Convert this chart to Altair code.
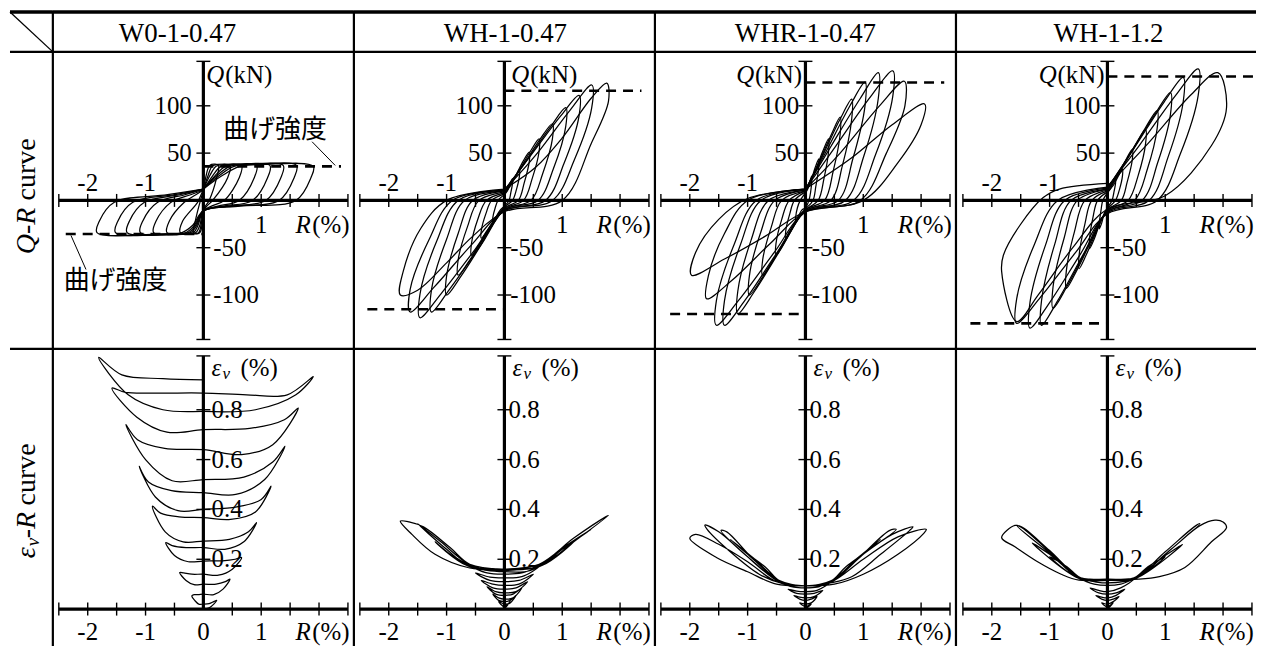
import altair as alt
import pandas as pd

SERIF = "Liberation Serif"
CJK = "Noto Sans CJK JP"
FS = 25

specimens = ["W0-1-0.47", "WH-1-0.47", "WHR-1-0.47", "WH-1-1.2"]

# ---- Q-R hysteresis loops: each loop is a list of (R [%], Q [kN]) points
qr_w0 = [
    [(0, 10), (0.04, 24), (0.09, 35), (0.14, 38), (0.26, 37), (0.23, 24), (0.1, 0), (0, -10), (-0.02, -24), (-0.05, -33), (-0.09, -35), (-0.17, -34), (-0.14, -22), (-0.05, 0), (0, 10)],
    [(0, 11), (0.08, 26), (0.15, 36), (0.25, 38), (0.46, 37), (0.42, 24), (0.16, 0), (0.06, -6), (0, -11), (-0.04, -26), (-0.08, -34), (-0.16, -35.5), (-0.4, -34), (-0.36, -22), (-0.1, -2), (-0.04, 6), (0, 11)],
    [(0, 11), (0.11, 26), (0.22, 36), (0.36, 38), (0.66, 37), (0.62, 24), (0.36, 0), (0.14, -6), (0, -11), (-0.06, -26), (-0.13, -34), (-0.25, -35.5), (-0.63, -34), (-0.59, -22), (-0.33, -2), (-0.13, 6), (0, 11)],
    [(0, 11), (0.16, 26), (0.3, 36), (0.51, 38), (0.92, 37), (0.88, 24), (0.62, 0), (0.25, -6), (0, -11), (-0.09, -26), (-0.17, -34), (-0.34, -35.5), (-0.86, -34), (-0.82, -22), (-0.56, -2), (-0.22, 6), (0, 11)],
    [(0, 12), (0.2, 26), (0.38, 36), (0.63, 38), (1.15, 37), (1.11, 24), (0.85, 0), (0.34, -6), (0, -11), (-0.11, -26), (-0.22, -34), (-0.44, -35.5), (-1.09, -34), (-1.05, -22), (-0.79, -2), (-0.32, 6), (0, 12)],
    [(0, 12), (0.23, 26), (0.46, 36), (0.76, 38), (1.38, 37), (1.34, 24), (1.08, 0), (0.43, -6), (0, -11), (-0.13, -26), (-0.26, -34), (-0.53, -35.5), (-1.32, -34), (-1.28, -22), (-1.02, -2), (-0.41, 6), (0, 12)],
    [(0, 12), (0.27, 26), (0.53, 36), (0.89, 38), (1.61, 37), (1.57, 24), (1.31, 0), (0.52, -6), (0, -11), (-0.15, -26), (-0.3, -34), (-0.61, -35.5), (-1.52, -34), (-1.48, -22), (-1.22, -2), (-0.49, 6), (0, 12)],
    [(0, 12), (0.32, 26), (0.63, 36), (1.05, 38), (1.9, 36), (1.86, 24), (1.6, 0), (0.64, -6), (0, -11), (-0.18, -26), (-0.37, -34), (-0.74, -35.5), (-1.84, -34), (-1.8, -22), (-1.54, -2), (-0.62, 6), (0, 12)],
]
qr_wh047 = [
    [(0, 6), (0.05, 10), (0.1, 18), (0.14, 23), (0.14, 18), (0.11, 8), (0.08, 0), (0, -6), (-0.07, -10), (-0.15, -18), (-0.2, -23), (-0.2, -18), (-0.16, -8), (-0.11, 0), (0, 6)],
    [(0, 7), (0.09, 14), (0.2, 26), (0.26, 33), (0.26, 26), (0.21, 12), (0.14, 0), (0, -7), (-0.14, -17), (-0.3, -32), (-0.4, -40), (-0.4, -32), (-0.32, -14), (-0.22, 0), (0, 7)],
    [(0, 8), (0.15, 21), (0.32, 41), (0.43, 51), (0.43, 41), (0.34, 18), (0.24, 0), (0, -8), (-0.2, -24), (-0.43, -46), (-0.57, -58), (-0.57, -46), (-0.46, -20), (-0.31, 0), (0, 8)],
    [(0, 9), (0.21, 27), (0.45, 52), (0.6, 65), (0.6, 52), (0.48, 23), (0.33, 0), (0, -9), (-0.28, -33), (-0.6, -63), (-0.8, -79), (-0.8, -63), (-0.64, -28), (-0.44, 0), (0, 9)],
    [(0, 10), (0.29, 34), (0.62, 65), (0.83, 81), (0.83, 65), (0.66, 28), (0.46, 0), (0, -10), (-0.35, -42), (-0.75, -80), (-1.0, -100), (-1.0, -80), (-0.8, -35), (-0.55, 0), (0, 10)],
    [(0, 10), (0.37, 41), (0.8, 78), (1.06, 98), (1.06, 78), (0.85, 34), (0.58, 0), (0, -10), (-0.44, -50), (-0.95, -94), (-1.26, -118), (-1.26, -94), (-1.0, -41), (-0.69, 0), (0, 10)],
    [(0, 11), (0.45, 47), (0.97, 89), (1.29, 111), (1.29, 89), (1.03, 39), (0.71, 0), (0, -11), (-0.51, -52), (-1.1, -99), (-1.46, -124), (-1.46, -99), (-1.17, -43), (-0.8, 0), (0, 11)],
    [(0, 11), (0.53, 47), (1.13, 95), (1.51, 122), (1.51, 98), (1.21, 43), (0.83, 0), (0, -11), (-0.57, -47), (-1.22, -92), (-1.63, -118), (-1.63, -94), (-1.3, -41), (-0.9, 0), (0, 11)],
    [(0, 12), (0.54, 35), (1.0, 66), (1.5, 108), (1.77, 124), (1.8, 105), (1.5, 60), (1.0, 0), (0, -12), (-0.55, -38), (-1.0, -66), (-1.5, -95), (-1.8, -100), (-1.75, -75), (-1.45, -30), (-1.0, 0), (0, 12)],
]
qr_whr = [
    [(0, 8), (0.04, 12), (0.08, 21), (0.11, 26), (0.11, 21), (0.09, 9), (0.06, 0), (0, -8), (-0.06, -10), (-0.13, -18), (-0.17, -23), (-0.17, -18), (-0.14, -8), (-0.09, 0), (0, 8)],
    [(0, 9), (0.08, 18), (0.17, 35), (0.23, 44), (0.23, 35), (0.18, 15), (0.13, 0), (0, -9), (-0.12, -17), (-0.26, -32), (-0.34, -40), (-0.34, -32), (-0.27, -14), (-0.19, 0), (0, 9)],
    [(0, 10), (0.14, 27), (0.3, 52), (0.4, 65), (0.4, 52), (0.32, 23), (0.22, 0), (0, -10), (-0.18, -24), (-0.38, -46), (-0.51, -58), (-0.51, -46), (-0.41, -20), (-0.28, 0), (0, 10)],
    [(0, 10), (0.21, 37), (0.45, 70), (0.6, 88), (0.6, 70), (0.48, 31), (0.33, 0), (0, -10), (-0.26, -33), (-0.56, -63), (-0.74, -79), (-0.74, -63), (-0.59, -28), (-0.41, 0), (0, 10)],
    [(0, 11), (0.28, 45), (0.6, 86), (0.8, 107), (0.8, 86), (0.64, 37), (0.44, 0), (0, -11), (-0.34, -42), (-0.73, -80), (-0.97, -100), (-0.97, -80), (-0.78, -35), (-0.53, 0), (0, 11)],
    [(0, 11), (0.36, 52), (0.77, 100), (1.03, 125), (1.03, 100), (0.82, 44), (0.57, 0), (0, -11), (-0.41, -50), (-0.88, -96), (-1.17, -120), (-1.17, -96), (-0.94, -42), (-0.64, 0), (0, 11)],
    [(0, 12), (0.44, 57), (0.95, 108), (1.26, 135), (1.26, 108), (1.01, 47), (0.69, 0), (0, -12), (-0.49, -55), (-1.05, -106), (-1.4, -132), (-1.4, -106), (-1.12, -46), (-0.77, 0), (0, 12)],
    [(0, 12), (0.53, 58), (1.13, 110), (1.51, 137), (1.51, 110), (1.21, 48), (0.83, 0), (0, -12), (-0.54, -55), (-1.16, -106), (-1.54, -132), (-1.54, -106), (-1.23, -46), (-0.85, 0), (0, 12)],
    [(0, 12), (0.6, 50), (1.28, 100), (1.71, 126), (1.72, 100), (1.4, 50), (0.95, 0), (0, -12), (-0.6, -45), (-1.28, -85), (-1.71, -104), (-1.68, -80), (-1.4, -35), (-1.0, 0), (0, 12)],
    [(0, 12), (0.8, 45), (1.5, 80), (2.06, 102), (2.0, 80), (1.6, 40), (1.0, 0), (0, -12), (-0.7, -38), (-1.4, -62), (-1.97, -79), (-1.9, -55), (-1.5, -20), (-1.0, 2), (0, 12)],
]
qr_wh12 = [
    [(0, 8), (0.05, 12), (0.1, 19), (0.14, 23), (0.14, 18), (0.11, 8), (0.08, 0), (0, -8), (-0.05, -13), (-0.1, -24), (-0.14, -30), (-0.14, -24), (-0.11, -10), (-0.08, 0), (0, 8)],
    [(0, 9), (0.09, 15), (0.2, 27), (0.26, 33), (0.26, 26), (0.21, 12), (0.14, 0), (0, -9), (-0.11, -21), (-0.23, -41), (-0.31, -51), (-0.31, -41), (-0.25, -18), (-0.17, 0), (0, 9)],
    [(0, 10), (0.15, 23), (0.32, 43), (0.43, 54), (0.43, 43), (0.34, 19), (0.24, 0), (0, -10), (-0.17, -30), (-0.37, -58), (-0.49, -72), (-0.49, -58), (-0.39, -25), (-0.27, 0), (0, 10)],
    [(0, 11), (0.23, 32), (0.5, 60), (0.66, 75), (0.66, 60), (0.53, 26), (0.36, 0), (0, -11), (-0.25, -39), (-0.53, -74), (-0.71, -93), (-0.71, -74), (-0.57, -33), (-0.39, 0), (0, 11)],
    [(0, 12), (0.3, 40), (0.65, 76), (0.86, 95), (0.86, 76), (0.69, 33), (0.47, 0), (0, -12), (-0.33, -48), (-0.7, -91), (-0.94, -114), (-0.94, -91), (-0.75, -40), (-0.52, 0), (0, 12)],
    [(0, 12), (0.38, 48), (0.82, 91), (1.09, 114), (1.09, 91), (0.87, 40), (0.6, 0), (0, -12), (-0.4, -55), (-0.86, -106), (-1.14, -132), (-1.14, -106), (-0.91, -46), (-0.63, 0), (0, 12)],
    [(0, 13), (0.46, 55), (0.98, 104), (1.31, 130), (1.31, 104), (1.05, 46), (0.72, 0), (0, -13), (-0.47, -57), (-1.0, -108), (-1.34, -135), (-1.34, -108), (-1.07, -47), (-0.74, 0), (0, 13)],
    [(0, 14), (0.55, 58), (1.18, 111), (1.57, 139), (1.57, 111), (1.26, 49), (0.86, 0), (0, -14), (-0.55, -55), (-1.18, -104), (-1.57, -130), (-1.57, -104), (-1.26, -46), (-0.86, 0), (0, 14)],
    [(0, 15), (0.7, 60), (1.45, 112), (1.91, 135), (2.06, 98), (1.8, 58), (1.0, 5), (0, -9), (-0.6, -50), (-1.2, -100), (-1.57, -128), (-1.83, -75), (-1.8, -58), (-1.51, -26), (-1.11, 3), (-0.83, 12), (0, 18)],
]

# ---- εv-R paths: (R [%], εv [%]) points
ev_w0 = [
    (0, 0), (0.1, 0.005), (0.18, 0.02), (0.23, 0.035), (0.18, 0.03), (0.1, 0.022), (0, 0.02),
    (-0.08, 0.02), (-0.15, 0.035), (-0.2, 0.053), (-0.16, 0.058), (-0.09, 0.058), (0, 0.06),
    (0.18, 0.058), (0.34, 0.08), (0.46, 0.12), (0.38, 0.11), (0.22, 0.1), (0, 0.1),
    (-0.16, 0.098), (-0.3, 0.115), (-0.41, 0.147), (-0.34, 0.145), (-0.2, 0.14), (0, 0.14),
    (0.26, 0.136), (0.5, 0.16), (0.66, 0.207), (0.55, 0.2), (0.33, 0.194), (0, 0.193),
    (-0.26, 0.19), (-0.5, 0.215), (-0.65, 0.267), (-0.54, 0.255), (-0.3, 0.247), (0, 0.247),
    (0.37, 0.24), (0.7, 0.27), (0.92, 0.347), (0.78, 0.31), (0.45, 0.28), (0, 0.273),
    (-0.35, 0.27), (-0.66, 0.31), (-0.88, 0.413), (-0.74, 0.385), (-0.42, 0.37), (0, 0.367),
    (0.47, 0.36), (0.9, 0.39), (1.17, 0.493), (1.0, 0.44), (0.58, 0.41), (0, 0.4),
    (-0.44, 0.395), (-0.83, 0.45), (-1.11, 0.573), (-0.95, 0.51), (-0.55, 0.475), (0, 0.467),
    (0.56, 0.46), (1.06, 0.52), (1.41, 0.653), (1.2, 0.59), (0.7, 0.53), (0, 0.52),
    (-0.54, 0.515), (-1.0, 0.6), (-1.34, 0.74), (-1.14, 0.68), (-0.67, 0.645), (0, 0.64),
    (0.66, 0.62), (1.2, 0.66), (1.64, 0.807), (1.4, 0.76), (0.8, 0.725), (0, 0.72),
    (-0.63, 0.71), (-1.15, 0.77), (-1.58, 0.887), (-1.35, 0.87), (-0.8, 0.867), (0, 0.867),
    (0.75, 0.86), (1.45, 0.86), (1.9, 0.933), (1.6, 0.86), (0.9, 0.8), (0, 0.793),
    (-0.7, 0.8), (-1.3, 0.86), (-1.81, 1.01), (-1.41, 0.94), (-0.7, 0.925), (0, 0.92),
]
ev_wh047 = [
    (0, 0), (0.1, 0.03), (0, 0.01), (-0.1, 0.03), (0, 0.02),
    (0.1, 0.025), (0.2, 0.055), (0.1, 0.035), (0, 0.03), (-0.1, 0.035), (-0.2, 0.06), (-0.1, 0.045), (0, 0.04),
    (0.15, 0.045), (0.3, 0.085), (0.15, 0.06), (0, 0.055), (-0.15, 0.06), (-0.3, 0.09), (-0.15, 0.07), (0, 0.065),
    (0.2, 0.07), (0.4, 0.11), (0.2, 0.085), (0, 0.08), (-0.2, 0.085), (-0.4, 0.115), (-0.2, 0.1), (0, 0.095),
    (0.25, 0.1), (0.5, 0.14), (0.25, 0.115), (0, 0.11), (-0.25, 0.115), (-0.5, 0.145), (-0.25, 0.128), (0, 0.125),
    (0.3, 0.13), (0.6, 0.17), (0.3, 0.145), (0, 0.14), (-0.3, 0.145), (-0.6, 0.175), (-0.3, 0.155), (0, 0.15),
    (0.45, 0.155), (0.9, 0.22), (0.55, 0.17), (0, 0.155), (-0.55, 0.168), (-0.9, 0.215), (-0.5, 0.165), (0, 0.158),
    (0.6, 0.17), (1.2, 0.27), (0.65, 0.175), (0, 0.16), (-0.65, 0.175), (-1.2, 0.27), (-0.6, 0.17), (0, 0.16),
    (0.6, 0.17), (1.0, 0.24), (1.5, 0.32), (1.1, 0.26), (0.6, 0.18), (0, 0.16),
    (-0.6, 0.17), (-1.0, 0.24), (-1.5, 0.343), (-1.1, 0.27), (-0.6, 0.18), (0, 0.16),
    (0.6, 0.17), (1.2, 0.27), (1.8, 0.376), (1.75, 0.37), (1.2, 0.285), (0.6, 0.18), (0, 0.16),
    (-0.6, 0.165), (-1.2, 0.22), (-1.6, 0.3), (-1.8, 0.353), (-1.65, 0.35), (-1.4, 0.33), (-0.94, 0.247), (-0.6, 0.18), (0, 0.16),
]
ev_whr = [
    (0, 0), (0.1, 0.02), (0, 0.01), (-0.1, 0.025), (0, 0.02),
    (0.1, 0.025), (0.2, 0.05), (0.1, 0.04), (0, 0.035), (-0.1, 0.04), (-0.2, 0.055), (-0.1, 0.048), (0, 0.045),
    (0.15, 0.05), (0.3, 0.075), (0.15, 0.063), (0, 0.06), (-0.15, 0.063), (-0.3, 0.08), (-0.15, 0.072), (0, 0.07),
    (0.2, 0.075), (0.43, 0.107), (0.2, 0.088), (0, 0.085), (-0.2, 0.088), (-0.43, 0.107), (-0.2, 0.095), (0, 0.093),
    (0.43, 0.107), (0.7, 0.16), (0.45, 0.115), (0, 0.093), (-0.43, 0.107), (-0.7, 0.16), (-0.45, 0.115), (0, 0.093),
    (0.43, 0.107), (0.75, 0.17), (1.0, 0.22), (0.7, 0.17), (0.43, 0.11), (0, 0.093),
    (-0.43, 0.107), (-0.75, 0.17), (-1.0, 0.22), (-0.7, 0.17), (-0.43, 0.11), (0, 0.093),
    (0.43, 0.107), (0.9, 0.2), (1.3, 0.28), (0.9, 0.205), (0.43, 0.11), (0, 0.093),
    (-0.43, 0.107), (-0.9, 0.2), (-1.3, 0.28), (-0.9, 0.205), (-0.43, 0.11), (0, 0.093),
    (0.43, 0.107), (1.0, 0.22), (1.57, 0.32), (1.45, 0.315), (0.9, 0.2), (0.43, 0.11), (0, 0.093),
    (-0.43, 0.107), (-1.0, 0.21), (-1.46, 0.316), (-1.36, 0.31), (-0.9, 0.2), (-0.43, 0.11), (0, 0.093),
    (0.43, 0.107), (1.0, 0.22), (1.5, 0.3), (1.86, 0.33), (1.8, 0.315), (1.3, 0.22), (0.8, 0.13), (0.43, 0.105), (0, 0.093),
    (-0.43, 0.107), (-1.0, 0.21), (-1.5, 0.31), (-1.74, 0.337), (-1.7, 0.32), (-1.3, 0.23), (-0.8, 0.14), (-0.43, 0.105), (0, 0.093),
    (0.43, 0.107), (1.0, 0.2), (1.6, 0.29), (2.09, 0.32), (2.05, 0.305), (1.6, 0.22), (1.0, 0.14), (0.5, 0.1), (0, 0.093),
    (-0.5, 0.1), (-1.0, 0.15), (-1.54, 0.207), (-2.0, 0.284), (-1.9, 0.3), (-1.5, 0.26), (-1.0, 0.19), (-0.5, 0.11), (0, 0.093),
]
ev_wh12 = [
    (0, 0), (0.1, 0.025), (0, 0.01), (-0.1, 0.025), (0, 0.02),
    (0.1, 0.03), (0.2, 0.05), (0.1, 0.04), (0, 0.035), (-0.1, 0.04), (-0.2, 0.055), (-0.1, 0.048), (0, 0.045),
    (0.15, 0.055), (0.3, 0.08), (0.15, 0.065), (0, 0.06), (-0.15, 0.065), (-0.3, 0.085), (-0.15, 0.075), (0, 0.07),
    (0.23, 0.085), (0.46, 0.12), (0.23, 0.1), (0, 0.095), (-0.23, 0.1), (-0.46, 0.12), (-0.23, 0.11), (0, 0.105),
    (0.46, 0.12), (0.7, 0.16), (0.46, 0.125), (0, 0.115), (-0.46, 0.12), (-0.7, 0.16), (-0.46, 0.125), (0, 0.118),
    (0.46, 0.12), (1.0, 0.21), (0.7, 0.17), (0.46, 0.125), (0, 0.12),
    (-0.46, 0.12), (-1.0, 0.21), (-0.7, 0.17), (-0.46, 0.125), (0, 0.12),
    (0.46, 0.12), (1.3, 0.26), (1.0, 0.215), (0.46, 0.125), (0, 0.12),
    (-0.46, 0.12), (-1.3, 0.265), (-1.0, 0.22), (-0.46, 0.125), (0, 0.12),
    (0.46, 0.12), (1.0, 0.22), (1.6, 0.343), (1.5, 0.33), (1.0, 0.23), (0.46, 0.125), (0, 0.12),
    (-0.46, 0.12), (-1.0, 0.225), (-1.57, 0.336), (-1.45, 0.325), (-1.0, 0.235), (-0.46, 0.125), (0, 0.12),
    (0.46, 0.12), (1.1, 0.24), (1.6, 0.335), (1.86, 0.357), (2.0, 0.35), (2.06, 0.327), (1.8, 0.27), (1.34, 0.167), (0.9, 0.13), (0.54, 0.12), (0, 0.12),
    (-0.46, 0.12), (-1.0, 0.23), (-1.5, 0.33), (-1.6, 0.336), (-1.83, 0.287), (-1.6, 0.25), (-1.23, 0.193), (-0.8, 0.14), (-0.49, 0.116), (0, 0.12),
]

qr_loops = [qr_w0, qr_wh047, qr_whr, qr_wh12]
ev_paths = [ev_w0, ev_wh047, ev_whr, ev_wh12]

# flexural strength (dashed lines)
strength_pos = [36, 116, 124.6, 131]
strength_pos_end = [2.38, 2.37, 2.4, 2.54]
strength_neg = [-35.5, -115, -120, -130]
strength_neg_end = [-2.38, -2.37, -2.34, -2.37]

# axes / tick values
r_ticks = [-2.5, -2, -1.5, -1, -0.5, 0.5, 1, 1.5, 2, 2.5]
q_ticks = [-147, -100, -50, 50, 100, 147]
ev_ticks = [0.2, 0.4, 0.6, 0.8, 1.016]
qr_xlab_up = ["-2", "-1"]
qr_xlab_up_r = [-2, -1]
qr_xlab_dn = ["1"]
qr_xlab_dn_r = [1]
q_lab_pos = ["100", "50"]
q_lab_pos_v = [100, 50]
q_lab_neg = ["-50", "-100"]
q_lab_neg_v = [-50, -100]
ev_xlab = ["-2", "-1", "0", "1"]
ev_xlab_r = [-2, -1, 0, 1]
ev_lab = ["0.8", "0.6", "0.4", "0.2"]
ev_lab_v = [0.8, 0.6, 0.4, 0.2]

# ---- layout (pixels)
LEFT_W, HEAD_H, ROW1_H, ROW2_H = 43, 41, 298, 299
col_w = [302, 302, 302, 301]
title_x = [125, 152, 151, 153]
x_dom = [[-2.603, 2.603], [-2.603, 2.603], [-2.603, 2.603], [-2.62, 2.57]]
q_dom = [-157, 157]
ev_dom = [-0.152, 1.044]
q_lab_pos_r = [-0.2, -0.2, -0.11, -0.12]
q_lab_neg_r = [0.17, 0.1, 0.11, 0.1]
qkn_r = [0.05, 0.12, -0.06, -0.05]
qkn_side = ["left", "left", "right", "right"]
ev_lab_r = [0.14, 0.07, 0.07, 0.07]

dummy = pd.DataFrame({"a": [0]})
BLACK = "black"


def hrule(w, y, sw):
    return alt.Chart(dummy).mark_rule(color=BLACK, strokeWidth=sw).encode(
        x=alt.value(0), x2=alt.value(w), y=alt.value(y))


def vrule(h, x, sw):
    return alt.Chart(dummy).mark_rule(color=BLACK, strokeWidth=sw).encode(
        x=alt.value(x), y=alt.value(0), y2=alt.value(h))


def panel(k, kind):
    w = col_w[k]
    h = ROW1_H if kind == "qr" else ROW2_H
    xs = alt.Scale(domain=x_dom[k], nice=False, zero=False)
    ys = alt.Scale(domain=q_dom if kind == "qr" else ev_dom, nice=False, zero=False)
    X = alt.X("R:Q", scale=xs, axis=None)
    Y = alt.Y("V:Q", scale=ys, axis=None)

    layers = [hrule(w, 0, 2.2), vrule(h, 0, 2.2)]

    rows = []
    if kind == "qr":
        for li, loop in enumerate(qr_loops[k]):
            for i, (r, v) in enumerate(loop):
                rows.append({"loop": li, "i": i, "R": r, "V": v})
    else:
        for i, (r, v) in enumerate(ev_paths[k]):
            rows.append({"loop": 0, "i": i, "R": r, "V": v})
    curves = alt.Chart(pd.DataFrame(rows)).mark_line(
        color=BLACK, strokeWidth=1.25, interpolate="catmull-rom").encode(
        x=X, y=Y, detail="loop:N", order="i:Q")
    layers.append(curves)

    if kind == "qr":
        ax = pd.DataFrame({"R": [-2.5, 0], "R2": [2.5, 0], "V": [0, -147], "V2": [0, 147]})
        yt = q_ticks
    else:
        ax = pd.DataFrame({"R": [-2.5, 0], "R2": [2.5, 0], "V": [0, 0], "V2": [0, 1.016]})
        yt = ev_ticks
    layers.append(alt.Chart(ax).mark_rule(color=BLACK, strokeWidth=3.2).encode(
        x=X, x2="R2:Q", y=Y, y2="V2:Q"))
    layers.append(alt.Chart(pd.DataFrame({"R": r_ticks, "V": [0] * len(r_ticks)})).mark_tick(
        color=BLACK, orient="vertical", size=13, thickness=1.4, opacity=1).encode(x=X, y=Y))
    layers.append(alt.Chart(pd.DataFrame({"R": [0] * len(yt), "V": yt})).mark_tick(
        color=BLACK, orient="horizontal", size=14, thickness=1.4, opacity=1).encode(x=X, y=Y))

    txt = dict(font=SERIF, fontSize=FS, color=BLACK, baseline="middle")
    if kind == "qr":
        dd = pd.DataFrame({"R": [0, strength_neg_end[k]], "R2": [strength_pos_end[k], 0],
                           "V": [strength_pos[k], strength_neg[k]]})
        layers.append(alt.Chart(dd).mark_rule(color=BLACK, strokeWidth=2.6, strokeDash=[10, 7]).encode(
            x=X, x2="R2:Q", y=Y))
        layers.append(alt.Chart(pd.DataFrame({"R": qr_xlab_up_r, "V": [0] * 2, "t": qr_xlab_up})).mark_text(
            align="center", dy=-17, **txt).encode(x=X, y=Y, text="t:N"))
        layers.append(alt.Chart(pd.DataFrame({"R": qr_xlab_dn_r, "V": [0], "t": qr_xlab_dn})).mark_text(
            align="center", dy=25, **txt).encode(x=X, y=Y, text="t:N"))
        layers.append(alt.Chart(pd.DataFrame({"R": [q_lab_pos_r[k]] * 2, "V": q_lab_pos_v, "t": q_lab_pos})).mark_text(
            align="right", **txt).encode(x=X, y=Y, text="t:N"))
        layers.append(alt.Chart(pd.DataFrame({"R": [q_lab_neg_r[k]] * 2, "V": q_lab_neg_v, "t": q_lab_neg})).mark_text(
            align="left", **txt).encode(x=X, y=Y, text="t:N"))
        qd = pd.DataFrame({"R": [qkn_r[k]], "V": [133]})
        if qkn_side[k] == "left":
            layers.append(alt.Chart(qd).mark_text(text="Q", align="left", fontStyle="italic", **txt).encode(x=X, y=Y))
            layers.append(alt.Chart(qd).mark_text(text="(kN)", align="left", dx=19, **txt).encode(x=X, y=Y))
        else:
            layers.append(alt.Chart(qd).mark_text(text="(kN)", align="right", **txt).encode(x=X, y=Y))
            layers.append(alt.Chart(qd).mark_text(text="Q", align="right", dx=-48, fontStyle="italic", **txt).encode(x=X, y=Y))
        rd = pd.DataFrame({"R": [2.53], "V": [0]})
        layers.append(alt.Chart(rd).mark_text(text="(%)", align="right", dy=25, **txt).encode(x=X, y=Y))
        layers.append(alt.Chart(rd).mark_text(text="R", align="right", dy=25, dx=-39, fontStyle="italic", **txt).encode(x=X, y=Y))
        if k == 0:
            ann = pd.DataFrame({"R": [1.24, -1.52], "V": [74, -85], "t": ["曲げ強度", "曲げ強度"]})
            layers.append(alt.Chart(ann).mark_text(font=CJK, fontSize=26, color=BLACK, baseline="middle",
                                                   align="center").encode(x=X, y=Y, text="t:N"))
            lead = pd.DataFrame({"R": [1.88, -2.29], "R2": [2.28, -2.03], "V": [62, -37], "V2": [37, -73]})
            layers.append(alt.Chart(lead).mark_rule(color=BLACK, strokeWidth=1).encode(
                x=X, x2="R2:Q", y=Y, y2="V2:Q"))
    else:
        layers.append(alt.Chart(pd.DataFrame({"R": ev_xlab_r, "V": [0] * 4, "t": ev_xlab})).mark_text(
            align="center", dy=23, **txt).encode(x=X, y=Y, text="t:N"))
        layers.append(alt.Chart(pd.DataFrame({"R": [ev_lab_r[k]] * 4, "V": ev_lab_v, "t": ev_lab})).mark_text(
            align="left", **txt).encode(x=X, y=Y, text="t:N"))
        rd = pd.DataFrame({"R": [2.53], "V": [0]})
        layers.append(alt.Chart(rd).mark_text(text="(%)", align="right", dy=23, **txt).encode(x=X, y=Y))
        layers.append(alt.Chart(rd).mark_text(text="R", align="right", dy=23, dx=-39, fontStyle="italic", **txt).encode(x=X, y=Y))
        ed = pd.DataFrame({"R": [0.14], "V": [0.968]})
        layers.append(alt.Chart(ed).mark_text(text="ε", align="left", fontStyle="italic", **txt).encode(x=X, y=Y))
        layers.append(alt.Chart(ed).mark_text(text="v", align="left", dx=11, dy=6, fontStyle="italic",
                                              font=SERIF, fontSize=17, color=BLACK, baseline="middle").encode(x=X, y=Y))
        layers.append(alt.Chart(ed).mark_text(text="(%)", align="left", dx=29, **txt).encode(x=X, y=Y))

    return alt.layer(*layers).properties(width=w, height=h)


def header(k):
    w = col_w[k]
    t = alt.Chart(dummy).mark_text(text=specimens[k], font=SERIF, fontSize=27, color=BLACK,
                                   align="center", baseline="middle").encode(
        x=alt.value(title_x[k]), y=alt.value(23))
    return alt.layer(hrule(w, 1, 3.6), vrule(HEAD_H, 0, 2.2), t).properties(width=w, height=HEAD_H)


corner = alt.layer(
    hrule(LEFT_W, 1, 3.6),
    alt.Chart(dummy).mark_rule(color=BLACK, strokeWidth=1.3).encode(
        x=alt.value(0), y=alt.value(1), x2=alt.value(LEFT_W), y2=alt.value(HEAD_H)),
).properties(width=LEFT_W, height=HEAD_H)


def rot(text, y, italic=False, size=28, x=17):
    return alt.Chart(dummy).mark_text(text=text, font=SERIF, fontSize=size, color=BLACK, angle=270,
                                      align="left", baseline="middle",
                                      fontStyle="italic" if italic else "normal").encode(
        x=alt.value(x), y=alt.value(y))


label1 = alt.layer(
    hrule(LEFT_W, 0, 2.2),
    rot("Q-R", 203, italic=True),
    rot("curve", 149),
).properties(width=LEFT_W, height=ROW1_H)

label2 = alt.layer(
    hrule(LEFT_W, 0, 2.2),
    rot("ε", 210, italic=True),
    rot("v", 198, italic=True, size=19, x=23),
    rot("-R", 190, italic=True),
    rot("curve", 157),
).properties(width=LEFT_W, height=ROW2_H)

cells = ([corner] + [header(k) for k in range(4)]
         + [label1] + [panel(k, "qr") for k in range(4)]
         + [label2] + [panel(k, "ev") for k in range(4)])

chart = alt.concat(*cells, columns=5, spacing=0, bounds="flush").properties(
    padding=0, background="white"
).configure_view(strokeWidth=0)

chart.save("out.html", embed_options={"renderer": "svg", "actions": False})
